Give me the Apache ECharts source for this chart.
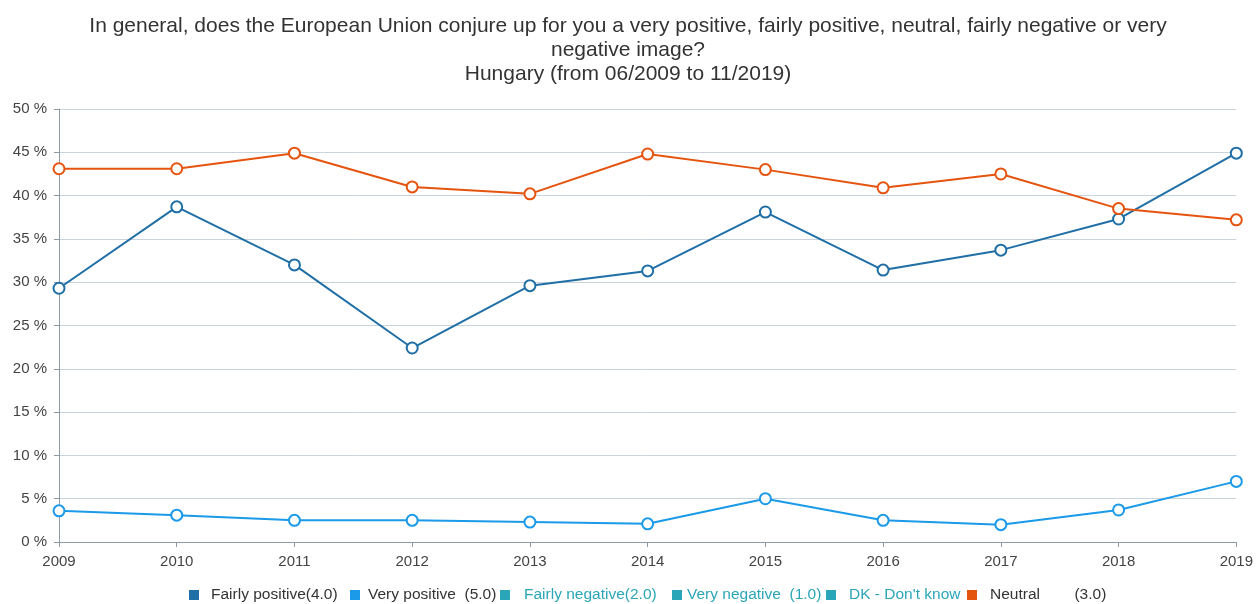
<!DOCTYPE html>
<html><head><meta charset="utf-8">
<script src="https://cdn.jsdelivr.net/npm/echarts@6/dist/echarts.min.js"></script>
<style>html,body{margin:0;padding:0;background:#fff}#c{width:1256px;height:604px}</style>
</head><body><div id="c"></div>
<script>
const years = ['2009','2010','2011','2012','2013','2014','2015','2016','2017','2018','2019'];
const fairlyPositive = [29.3,38.7,32.0,22.4,29.6,31.3,38.1,31.4,33.7,37.3,44.9];
const veryPositive = [3.6,3.1,2.5,2.5,2.3,2.1,5.0,2.5,2.0,3.7,7.0];
const neutral = [43.1,43.1,44.9,41.0,40.2,44.8,43.0,40.9,42.5,38.5,37.2];
const yTicks = [0,5,10,15,20,25,30,35,40,45,50];
const legendNames = ['Fairly positive(4.0)','Very positive  (5.0)','Fairly negative(2.0)','Very negative  (1.0)',"DK - Don't know",'Neutral        (3.0)'];

const FONT = 'Liberation Sans, Arial, sans-serif';
const teal = '#2aa6b8';
const colors = ['#1f6fa6','#1a9ae8',teal,teal,teal,'#e5540f'];
const textColors = ['#333','#333',teal,teal,teal,'#333'];
const legendLeft = [189,350,500,672,826,967];
const legendPad = [8,4,10,1,9,9];

function lineSeries(i, data){
  const color = colors[i];
  return {name:legendNames[i], type:'line', data, color,
    symbol:'emptyCircle', symbolSize:11,
    lineStyle:{width:2,color}, itemStyle:{color, borderWidth:2, borderColor:color},
    emphasis:{disabled:true}};
}
const legends = legendNames.map((n,i)=>({
  left:legendLeft[i], top:587, itemWidth:8, itemHeight:8, icon:'rect', padding:0,
  textStyle:{fontFamily:FONT, fontSize:15.5, color:textColors[i], padding:[0,0,0,legendPad[i]]},
  data:[n]
}));
const chart = echarts.init(document.getElementById('c'));
chart.setOption({
  animation:false,
  title:{text:'In general, does the European Union conjure up for you a very positive, fairly positive, neutral, fairly negative or very\nnegative image?\nHungary (from 06/2009 to 11/2019)',
    left:'center', top:9,
    textStyle:{fontFamily:FONT, fontSize:21, fontWeight:'normal', color:'#333', lineHeight:24}},
  grid:{left:59,right:18,top:109,bottom:62},
  legend:legends,
  xAxis:{type:'category', data:years, boundaryGap:false,
    axisLine:{lineStyle:{color:'#8c9aa8'}}, axisTick:{alignWithLabel:true,length:5,lineStyle:{color:'#8c9aa8'}},
    axisLabel:{fontFamily:FONT, fontSize:15, color:'#444', margin:12}},
  yAxis:{type:'value', min:yTicks[0], max:yTicks[yTicks.length-1], interval:5,
    axisLine:{show:true,lineStyle:{color:'#8c9aa8'}}, axisTick:{show:true,length:5,lineStyle:{color:'#8c9aa8'}},
    splitLine:{lineStyle:{color:'#c9d4dd'}},
    axisLabel:{formatter:'{value} %', fontFamily:FONT, fontSize:15, color:'#444', margin:12}},
  series:[
    lineSeries(0,fairlyPositive),
    lineSeries(1,veryPositive),
    lineSeries(2,[]),
    lineSeries(3,[]),
    lineSeries(4,[]),
    lineSeries(5,neutral)
  ]
});
</script></body></html>
